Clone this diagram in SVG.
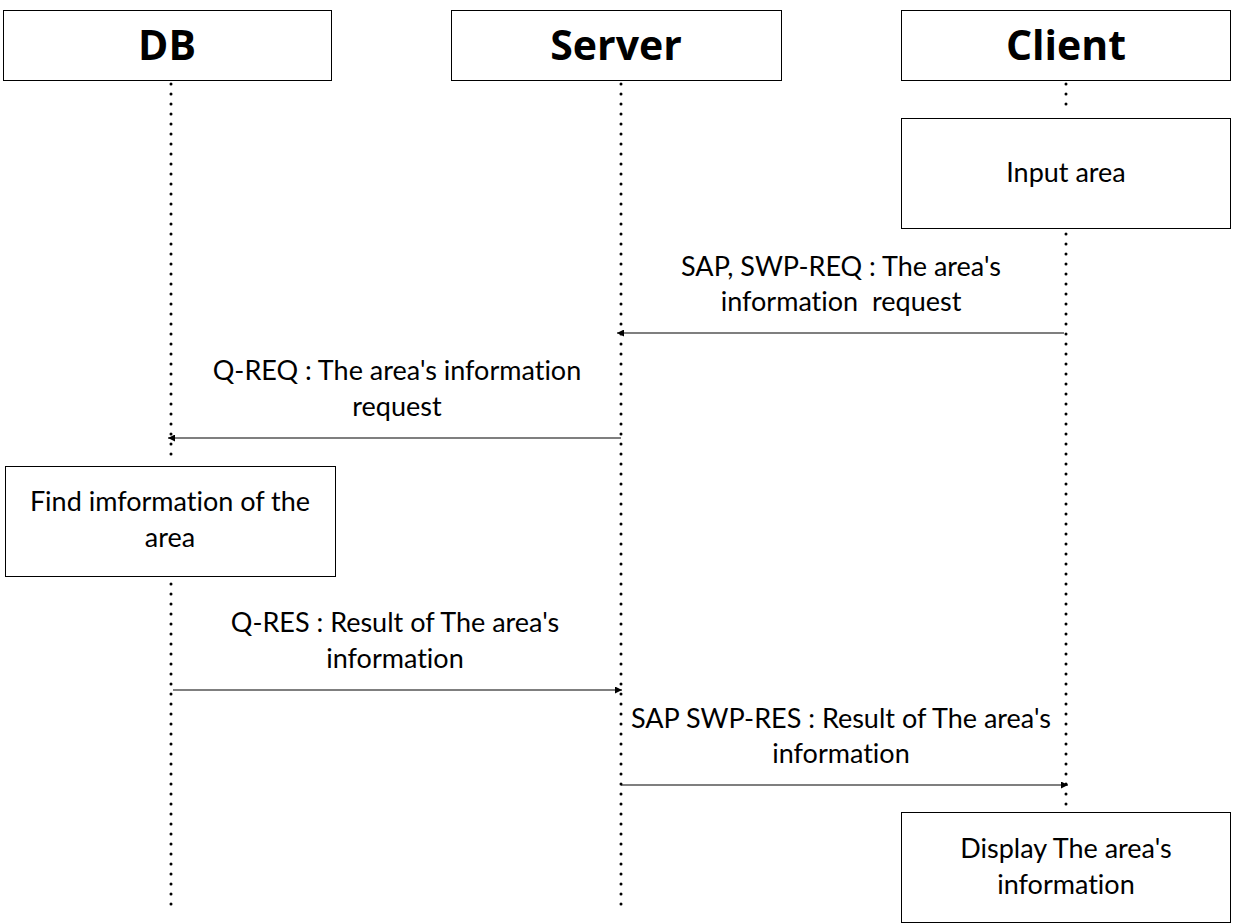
<svg xmlns="http://www.w3.org/2000/svg" width="1233" height="923" viewBox="0 0 1233 923">
<defs>
<style>
.box{fill:#fff;stroke:#000;stroke-width:1}
.hd{font-family:"Open Sans","Noto Sans",sans-serif;font-weight:bold;font-size:41px;text-anchor:middle}
.t{font-family:Lato,"Open Sans",sans-serif;font-size:27px;text-anchor:middle;font-variant-ligatures:none}
.life{stroke:#000;stroke-width:3;stroke-dasharray:0 10;stroke-linecap:round;fill:none}
.msg{stroke:#000;stroke-width:1.2;fill:none}
</style>
<marker id="ah" viewBox="0 0 10 10" refX="10" refY="5" markerWidth="7" markerHeight="7" orient="auto" markerUnits="userSpaceOnUse">
<path d="M0,0 L10,5 L0,10 Z" fill="#000"/>
</marker>
</defs>
<rect width="1233" height="923" fill="#fff"/>
<g id="lifelines">
<line class="life" x1="171" y1="84" x2="171" y2="464"/>
<line class="life" x1="171" y1="584" x2="171" y2="914"/>
<line class="life" x1="621" y1="84" x2="621" y2="914"/>
<line class="life" x1="1066" y1="84" x2="1066" y2="114"/>
<line class="life" x1="1066" y1="234" x2="1066" y2="810"/>
</g>
<g id="db"><rect class="box" x="3.5" y="10.5" width="328" height="70"/><text class="hd" x="167" y="60">DB</text></g>
<g id="server"><rect class="box" x="451.5" y="10.5" width="330" height="70"/><text class="hd" x="616" y="60">Server</text></g>
<g id="client"><rect class="box" x="901.5" y="10.5" width="329" height="70"/><text class="hd" x="1066" y="60">Client</text></g>
<g id="input"><rect class="box" x="901.5" y="118.5" width="329" height="110"/><text class="t" x="1066" y="182">Input area</text></g>
<g id="find"><rect class="box" x="5.5" y="466.5" width="330" height="110"/><text class="t" x="170" y="511">Find imformation of the</text><text class="t" x="170" y="547">area</text></g>
<g id="display"><rect class="box" x="901.5" y="812.5" width="329" height="110"/><text class="t" x="1066" y="858">Display The area's</text><text class="t" x="1066" y="894">information</text></g>
<g id="connectors">
<line class="msg" x1="1064" y1="333" x2="617" y2="333" marker-end="url(#ah)"/>
<line class="msg" x1="621" y1="438" x2="168" y2="438" marker-end="url(#ah)"/>
<line class="msg" x1="173" y1="690" x2="622" y2="690" marker-end="url(#ah)"/>
<line class="msg" x1="621" y1="785" x2="1068" y2="785" marker-end="url(#ah)"/>
</g>
<g id="labels">
<text class="t" x="841" y="276">SAP, SWP-REQ : The area's</text>
<text class="t" x="841" y="311" xml:space="preserve">information  request</text>
<text class="t" x="397" y="380">Q-REQ : The area's information</text>
<text class="t" x="397" y="416">request</text>
<text class="t" x="395" y="632">Q-RES : Result of The area's</text>
<text class="t" x="395" y="668">information</text>
<text class="t" x="841" y="728">SAP SWP-RES : Result of The area's</text>
<text class="t" x="841" y="763">information</text>
</g>
</svg>
